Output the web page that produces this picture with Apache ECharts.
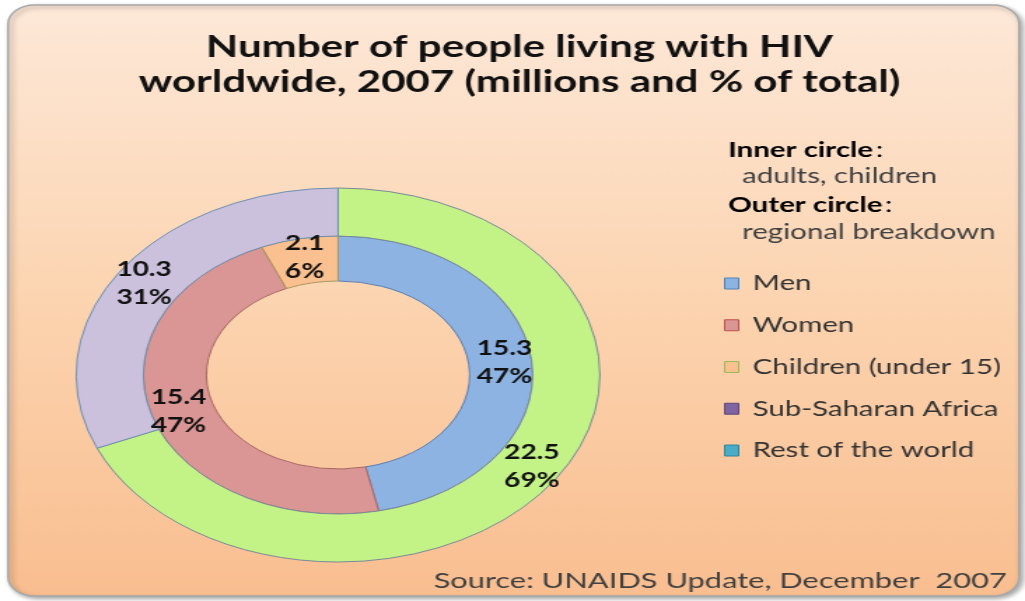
<!DOCTYPE html>
<html><head><meta charset="utf-8">
<script src="https://cdn.jsdelivr.net/npm/echarts@6/dist/echarts.min.js"></script>
<style>
html,body{margin:0;padding:0;background:#fff;overflow:hidden;}
#wrap{width:1025px;height:601px;position:relative;overflow:hidden;background:#fff;}
#chart{width:732px;height:601px;position:absolute;left:0;top:0;transform:scaleX(1.40027);transform-origin:0 0;}
</style></head><body>
<div id="wrap"><div id="chart"></div></div>
<script>
// ---- data ----
const innerCategories = ['Men', 'Women', 'Children (under 15)'];
const innerValues = [15.3, 15.4, 2.1];
const outerCategories = ['Sub-Saharan Africa', 'Rest of the world'];
const outerValues = [22.5, 10.3];
const legendNames = ['Men', 'Women', 'Children (under 15)', 'Sub-Saharan Africa', 'Rest of the world'];
const titleText = 'Number of people living with HIV\nworldwide, 2007 (millions and % of total)';
const sourceText = 'Source: UNAIDS Update, December  2007';

// ---- styles ----
const innerColors = ['#8db3e2', '#d99694', '#fac090'];
const innerBorders = ['#5b7fb0', '#a86866', '#a89a60'];
const outerColors = ['#c3f287', '#cbc1dc'];
const outerBorders = ['#7a8a9a', '#6f90b0'];
const legendColors = ['#8db3e2', '#d99694', '#fac090', '#8064a2', '#4bacc6'];
const legendBorders = ['#4f81bd', '#c0504d', '#9bbb59', '#5f497a', '#31859c'];

const chart = echarts.init(document.getElementById('chart'), null, {renderer: 'canvas'});
const CX = 241.4, CY = 375;
const labelStyle = {
  show: true, position: 'inside', formatter: '{c}\n{d}%',
  fontFamily: 'Lato', fontWeight: 'bold', fontSize: 20, lineHeight: 28, color: '#111'
};
chart.setOption({
  animation: false,
  backgroundColor: 'transparent',
  graphic: [
    {
      type: 'rect', z: -10, silent: true,
      shape: {x: 5.8, y: 5, width: 722, height: 591, r: 19},
      style: {
        fill: {type: 'linear', x: 0, y: 0, x2: 0, y2: 1, colorStops: [
          {offset: 0, color: '#fde8d8'}, {offset: 0.5, color: '#fcd4b0'}, {offset: 1, color: '#f9be90'}]},
        stroke: '#a8a8a8', lineWidth: 1.5,
        shadowBlur: 4, shadowOffsetX: 2, shadowOffsetY: 2, shadowColor: 'rgba(0,0,0,0.35)'
      }
    },
    {
      type: 'text', x: 371, y: 64.5, silent: true,
      style: {text: titleText, align: 'center', verticalAlign: 'middle', lineHeight: 35,
        font: 'bold 30px Lato', fill: '#111'}
    },
    {
      type: 'text', x: 520, y: 150, silent: true,
      style: {text: '{b|Inner circle}{n|:}', verticalAlign: 'middle',
        rich: {b: {fontFamily: 'Lato', fontWeight: 'bold', fontSize: 21, color: '#1a1a1a'},
               n: {fontFamily: 'Lato', fontSize: 21, color: '#1a1a1a', padding: [0, 0, 0, 2]}}}
    },
    {
      type: 'text', x: 530, y: 176, silent: true,
      style: {text: 'adults, children', verticalAlign: 'middle', font: '21px Lato', fill: '#404040'}
    },
    {
      type: 'text', x: 520, y: 205, silent: true,
      style: {text: '{b|Outer circle}{n|:}', verticalAlign: 'middle',
        rich: {b: {fontFamily: 'Lato', fontWeight: 'bold', fontSize: 21, color: '#1a1a1a'},
               n: {fontFamily: 'Lato', fontSize: 21, color: '#1a1a1a', padding: [0, 0, 0, 2]}}}
    },
    {
      type: 'text', x: 530, y: 232, silent: true,
      style: {text: 'regional breakdown', verticalAlign: 'middle', font: '21px Lato', fill: '#404040'}
    },
    {
      type: 'text', x: 719, y: 581, silent: true,
      style: {text: sourceText, align: 'right', verticalAlign: 'middle', font: '22px Lato', fill: '#404040'}
    }
  ],
  legend: {
    orient: 'vertical', left: 517, top: 273, padding: 0, icon: 'rect',
    itemWidth: 10, itemHeight: 11, itemGap: 20.75, selectedMode: false,
    textStyle: {fontFamily: 'Lato', fontSize: 21, color: '#333', lineHeight: 20, padding: [0, 0, 0, 5]},
    data: legendNames.map((n, i) => ({name: n, itemStyle: {color: legendColors[i], borderColor: legendBorders[i], borderWidth: 1}}))
  },
  series: [
    {
      type: 'pie', name: 'Inner circle', center: [CX, CY], radius: [94, 139],
      startAngle: 90, clockwise: true, avoidLabelOverlap: false, percentPrecision: 0,
      label: labelStyle, labelLine: {show: false}, emphasis: {disabled: true},
      data: innerCategories.map((n, i) => ({name: n, value: innerValues[i],
        itemStyle: {color: innerColors[i], borderColor: innerBorders[i], borderWidth: 1}}))
    },
    {
      type: 'pie', name: 'Outer circle', center: [CX, CY], radius: [139, 187],
      startAngle: 90, clockwise: true, avoidLabelOverlap: false, percentPrecision: 0,
      label: labelStyle, labelLine: {show: false}, emphasis: {disabled: true},
      data: outerCategories.map((n, i) => ({name: n, value: outerValues[i],
        itemStyle: {color: outerColors[i], borderColor: outerBorders[i], borderWidth: 1}}))
    }
  ]
});
</script>
</body></html>
